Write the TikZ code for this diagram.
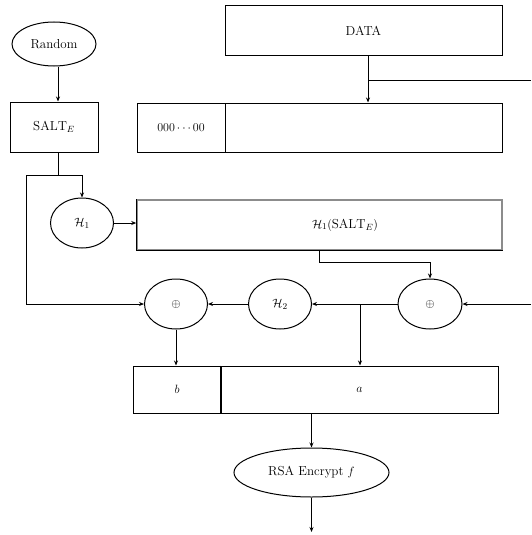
\documentclass[tikz,border=0pt]{standalone}
\usepackage{fontspec}
\usetikzlibrary{shapes.geometric,arrows.meta}
\tikzset{
  every node/.style={font=\fontsize{13}{15}\selectfont},
  conn/.style={line width=1pt,-{Stealth[length=5pt,width=4pt]}},
  plain/.style={line width=1pt},
  ell/.style={draw,ellipse,line width=1pt,inner sep=0pt},
  boxn/.style={draw,rectangle,line width=1pt,inner sep=0pt}
}
\begin{document}
\begin{tikzpicture}[x=1pt,y=-1pt]
\useasboundingbox (0,0) rectangle (531,535);
% nodes
\node[ell,minimum width=84,minimum height=44] (rand) at (54,44) {Random};
\node[boxn,minimum width=88,minimum height=50] (salt) at (54,127) {$\mathrm{SALT}_E$};
\node[boxn,minimum width=277,minimum height=50] (data) at (363.5,31) {DATA};
\node[boxn,minimum width=88,minimum height=49] (zl) at (181,127.5) {$000\cdots00$};
\node[boxn,minimum width=277,minimum height=49] (zr) at (363.5,127.5) {};
\node[ell,minimum width=63,minimum height=50] (h1) at (82,223) {$\mathcal{H}_1$};
\node[boxn,draw=black!45,line width=1.5pt,minimum width=365,minimum height=50] (hs) at (319.5,225) {};
\draw[line width=1pt] (hs.north west) -- (hs.south west) -- (hs.south east);
\node (hstxt) at (345,225) {$\mathcal{H}_1(\mathrm{SALT}_E)$};
\node[ell,minimum width=63,minimum height=50] (x1) at (176,304) {$\oplus$};
\node[ell,minimum width=63,minimum height=50] (h2) at (280,304) {$\mathcal{H}_2$};
\node[ell,minimum width=64,minimum height=50] (x2) at (430,304) {$\oplus$};
\node[boxn,minimum width=88,minimum height=47] (b) at (177,389.5) {$b$};
\node[boxn,minimum width=277,minimum height=47] (a) at (359.5,389.5) {$a$};
\draw[line width=1.8pt] (a.north west) -- (a.south west);
\node[ell,minimum width=155,minimum height=49] (rsa) at (311.5,472.5) {RSA Encrypt $f$};
% coordinates
\coordinate (j1) at (58,175);
\coordinate (cl) at (26,175);
\coordinate (j2) at (0,262);
\coordinate (dj) at (368,80);
\coordinate (dr) at (531,80);
\coordinate (xr) at (531,304);
\coordinate (aj) at (360,304);
\coordinate (out) at (311.5,532);
% connectors
\draw[conn] ([xshift=4pt]rand.south) -- ([xshift=4pt]salt.north);
\draw[plain] ([xshift=4pt]salt.south) -- (j1);
\draw[conn] (cl) -| (h1.north);
\draw[conn] (j1) -- (cl) |- (x1.west);
\draw[conn] (h1.east) -- (hs.west |- h1.east);
\draw[conn] (data.south -| dj) -- (zr.north -| dj);
\draw[plain] (dj) -- (dr);
\draw[conn] (hs.south) |- (x2.north |- j2) -- (x2.north);
\draw[conn] (xr) -- (x2.east);
\draw[conn] (x2.west) -- (h2.east);
\draw[conn] (aj) -- (a.north -| aj);
\draw[conn] (h2.west) -- (x1.east);
\draw[conn] (x1.south) -- (b.north -| x1.south);
\draw[conn] (rsa.north |- a.south) -- (rsa.north);
\draw[conn] (rsa.south) -- (out);
\end{tikzpicture}
\end{document}
